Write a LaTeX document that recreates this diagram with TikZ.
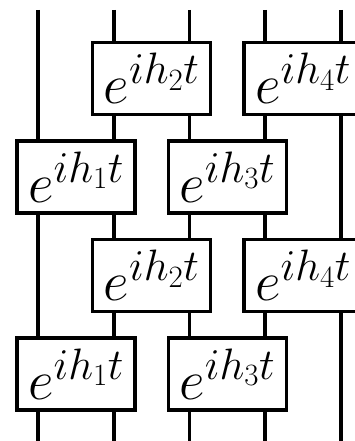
\documentclass[tikz,border=0pt]{standalone}
\usepackage{fix-cm}
\DeclareMathSizes{56}{56}{44}{31}
\newcommand{\gatetext}[1]{$e^{ih_{#1}t}$}
\begin{document}
\begin{tikzpicture}[x=1pt,y=-1pt,
  wire/.style={line width=3.6pt},
  gate/.style={draw, line width=3.3pt, fill=white, inner sep=0pt,
    minimum width=118pt, minimum height=72pt,
    font=\fontsize{56}{60}\selectfont}]
\clip (0,0) rectangle (355,441);
\useasboundingbox (0,0) rectangle (355,441);
% wires
\foreach \k/\x in {1/38,2/113.75,3/189.5,4/265.25,5/341}{
  \coordinate (top\k) at (\x,10);
  \coordinate (bot\k) at (\x,445);
  \draw[wire] (top\k) -- (bot\k);
}
% gates
\node[gate] (a2) at (151.6,78.5) {\gatetext{2}};
\node[gate] (a4) at (303.1,78.5) {\gatetext{4}};
\node[gate] (b1) at (76,177) {\gatetext{1}};
\node[gate] (b3) at (227.4,177) {\gatetext{3}};
\node[gate] (c2) at (151.6,275.5) {\gatetext{2}};
\node[gate] (c4) at (303.1,275.5) {\gatetext{4}};
\node[gate] (d1) at (76,374) {\gatetext{1}};
\node[gate] (d3) at (227.4,374) {\gatetext{3}};
\end{tikzpicture}
\end{document}
